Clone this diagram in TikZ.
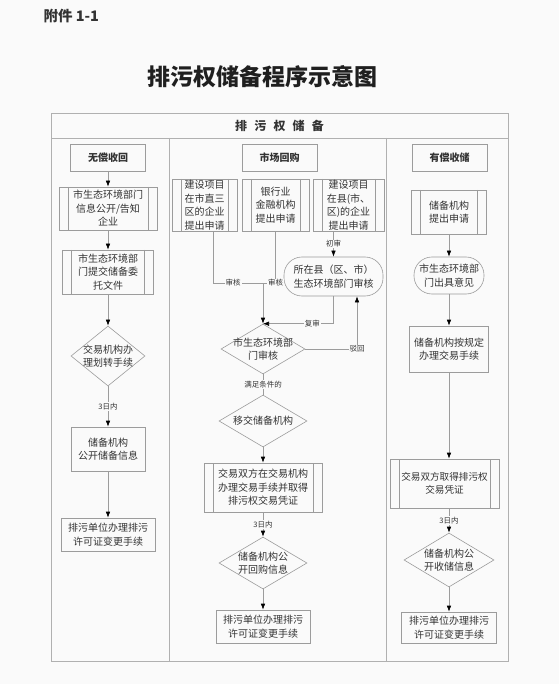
\documentclass[tikz,border=0pt]{standalone}
\usepackage{fontspec}
\setmainfont{Noto Sans CJK SC}
\usepackage{tikz}
\usetikzlibrary{shapes.geometric}
\usetikzlibrary{arrows.meta}
\usetikzlibrary{calc}
\definecolor{bg}{HTML}{FAFAFA}
\definecolor{ink}{HTML}{333333}
\definecolor{edge}{HTML}{9C9C9C}
\tikzstyle{frame} = [draw=edge!80,line width=0.8pt]
\tikzstyle{conn} = [draw=edge,line width=0.6pt]
\tikzstyle{arr} = [conn,-{Latex[length=6pt,width=4.5pt,color=black]}]
\tikzstyle{txt} = [text=ink,align=center,inner sep=0pt,font=\fontsize{10}{13.5}\selectfont]
\tikzstyle{box} = [txt,draw=edge,line width=0.6pt]
\tikzstyle{head} = [box,font=\bfseries\fontsize{10}{12}\selectfont,minimum width=75pt,minimum height=27pt]
\tikzstyle{proc} = [box,path picture={
  \draw[edge,line width=0.6pt] ([xshift=9pt]path picture bounding box.north west) -- ([xshift=9pt]path picture bounding box.south west)
  ([xshift=-9pt]path picture bounding box.north east) -- ([xshift=-9pt]path picture bounding box.south east);}]
\tikzstyle{dia} = [box,diamond]
\tikzstyle{oval} = [box,rounded corners=18pt]
\tikzstyle{lbl} = [fill=bg,text=ink,inner sep=1pt,font=\fontsize{7.5}{8}\selectfont]

\begin{document}
\begin{tikzpicture}[x=1pt,y=-1pt]
\useasboundingbox (0,0) rectangle (559,684);
\fill[bg] (0,0) rectangle (559,684);
\draw(40,16) node[anchor=west,text=ink,font=\bfseries\fontsize{14.5}{14.5}\selectfont] (att) {附件 1-1};
\draw(262,77) node[text=ink!60!black,font=\bfseries\fontsize{23}{23}\selectfont] (title) {排污权储备程序示意图};

\draw[frame] (51,113) rectangle (508,661);
\draw[frame] (51,138) -- (508,138);
\draw[frame] (169,138) -- (169,661);
\draw[frame] (386,138) -- (386,661);
\draw(279.5,125.5) node[text=ink,font=\bfseries\fontsize{12}{12}\selectfont] (hd) {排\hspace{.6em}污\hspace{.6em}权\hspace{.6em}储\hspace{.6em}备};

% left column
\draw(108,157.5) node[head] (wc) {无偿收回};
\draw(108,208.5) node[proc,minimum width=98pt,minimum height=43pt] (l1) {市生态环境部门\\信息公开/告知\\企业};
\draw(108,272) node[proc,minimum width=91pt,minimum height=44pt] (l2) {市生态环境部\\门提交储备委\\托文件};
\draw(108,356) node[dia,minimum width=74pt,minimum height=60pt,label={[txt]center:交易机构办\\理划转手续}] (l3) {};
\draw(108,449) node[box,minimum width=74pt,minimum height=44pt] (l4) {储备机构\\公开储备信息};
\draw(108,534.5) node[box,minimum width=94pt,minimum height=33pt] (l5) {排污单位办理排污\\许可证变更手续};

\draw[arr] (wc) -- (l1);
\draw[arr] (l1) -- (l2);
\draw[arr] (l2) -- (l3);
\draw[arr] (l3) -- node[lbl]{3日内} (l4);
\draw[arr] (l4) -- (l5);

% middle column
\draw(279.5,157.5) node[head] (sc) {市场回购};
\draw(204.5,205) node[proc,minimum width=65pt,minimum height=52pt] (m1) {建设项目\\在市直三\\区的企业\\提出申请};
\draw(275.5,205) node[proc,minimum width=67pt,minimum height=52pt] (m2) {银行业\\金融机构\\提出申请};
\draw(348.5,205) node[proc,minimum width=71pt,minimum height=52pt] (m3) {建设项目\\在县(市、\\区)的企业\\提出申请};
\draw(333.5,276.5) node[oval,minimum width=99pt,minimum height=39pt] (m4) {所在县（区、市）\\生态环境部门审核};
\draw(263,349) node[dia,minimum width=84pt,minimum height=50pt,label={[txt]center:市生态环境部\\门审核}] (m5) {};
\draw(263,421) node[dia,minimum width=88pt,minimum height=52pt,label={[txt]center:移交储备机构}] (m6) {};
\draw(263,487.5) node[proc,minimum width=118pt,minimum height=49pt] (m7) {交易双方在交易机构\\办理交易手续并取得\\排污权交易凭证};
\draw(263,563) node[dia,minimum width=88pt,minimum height=52pt,label={[txt]center:储备机构公\\开回购信息}] (m8) {};
\draw(263,626.5) node[box,minimum width=94pt,minimum height=33pt] (m9) {排污单位办理排污\\许可证变更手续};

\coordinate (j1) at (213,283);
\coordinate (j2) at (263,283);
\coordinate (j3) at (275.5,283);
\coordinate (bh) at (357,349);
\draw[conn] (m1.south -| j1) -- (j1) -- node[lbl,pos=.4]{审核} (j2);
\draw[conn] (m2.south) -- (j3) node[lbl]{审核} -- (j2);
\draw[arr] (j2) -- (m5.north);
\draw[arr] (m3.south -| m4.north) -- node[lbl]{初审} (m4.north);
\draw[arr] (m4.south) -- (m4.south |- m5.north) -- node[lbl,pos=.3]{复审} (m5.north);
\draw[arr] (m5.east) -- (bh) node[lbl]{驳回} -- (bh |- m4.south);
\draw[conn] (m5) -- node[lbl]{满足条件的} (m6);
\draw[arr] (m6) -- (m7);
\draw[arr] (m7) -- node[lbl]{3日内} (m8);
\draw[arr] (m8) -- (m9);

% right column
\draw(449.5,157.5) node[head] (yc) {有偿收储};
\draw(449,212) node[proc,minimum width=75pt,minimum height=44pt] (r1) {储备机构\\提出申请};
\draw(449,275.5) node[oval,minimum width=70pt,minimum height=37pt] (r2) {市生态环境部\\门出具意见};
\draw(449,349) node[box,minimum width=79pt,minimum height=46pt] (r3) {储备机构按规定\\办理交易手续};
\draw(444.5,483.5) node[proc,minimum width=109pt,minimum height=49pt,font=\fontsize{9.6}{13.5}\selectfont] (r4) {交易双方取得排污权\\交易凭证};
\draw(449,560) node[dia,minimum width=90pt,minimum height=54pt,label={[txt]center:储备机构公\\开收储信息}] (r5) {};
\draw(449,627.5) node[box,minimum width=95pt,minimum height=31pt] (r6) {排污单位办理排污\\许可证变更手续};

\draw[arr] (r1) -- (r2);
\draw[arr] (r2) -- (r3);
\draw[arr] (r3) -- (r3 |- r4.north);
\draw[arr] (r4.south -| r5) -- node[lbl]{3日内} (r5);
\draw[arr] (r5) -- (r6);

\end{tikzpicture}
\end{document}
